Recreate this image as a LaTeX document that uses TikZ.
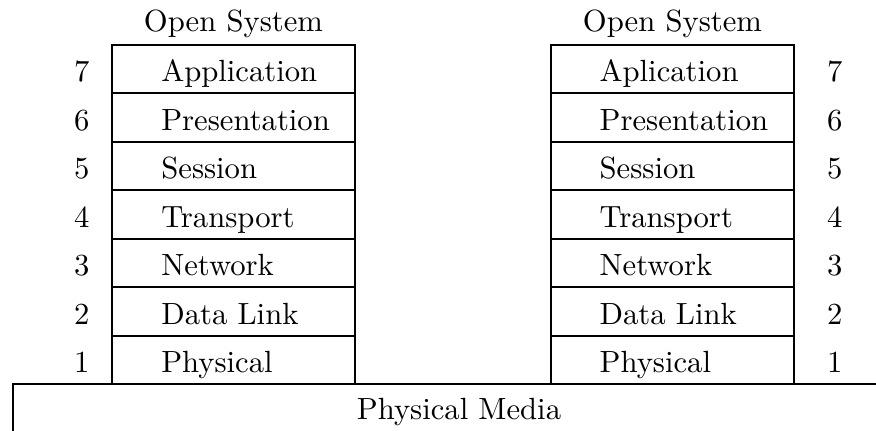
\documentclass[tikz,border=0pt]{standalone}
\usepackage{fontspec}
\newfontfamily\osifont{lmroman10-regular}[Extension=.otf]
\usepackage{tikz}
\usetikzlibrary{positioning}
\tikzset{
        layer/.style = {draw, rectangle, line width=1.4pt,
            minimum height=36.3pt,
            minimum width=182.25pt, inner sep=0pt},
        ltext/.style = {inner sep=0pt, text height=19pt, text depth=0pt,
            font=\osifont\fontsize{23}{28}\selectfont},
        num/.style = {ltext},
        media/.style = {draw, rectangle, line width=1.4pt,
            minimum width=669pt, minimum height=37.5pt,
            inner sep=0pt, text height=16.5pt, text depth=0pt,
            font=\osifont\fontsize{23}{28}\selectfont},
    }

\begin{document}
\begin{tikzpicture}[x=0.75pt,y=0.75pt,yscale=-1,xscale=1]
    \useasboundingbox (0,0) rectangle (876,431);
    \clip (0,0) rectangle (876,431);

    % Physical media (runs off the frame)
    \node[media] (media) at (459,409) {Physical Media};

    % Two open-system stacks
    \foreach \n/\lname/\rname [count=\i from 0] in {7/Application/Aplication,6/Presentation/Presentation,5/Session/Session,4/Transport/Transport,3/Network/Network,2/Data Link/Data Link,1/Physical/Physical}{
        \node[layer] (A\n) at (233.5,{69.2+48.43*\i}) {};
        \node[ltext, right=37.5pt of A\n.west] (At\n) {\lname};
        \node[num, left=16pt of A\n.west] (An\n) {\n};
        \node[layer] (B\n) at (672.5,{69.2+48.43*\i}) {};
        \node[ltext, right=37pt of B\n.west] (Bt\n) {\rname};
        \node[num, right=24pt of B\n.east] (Bn\n) {\n};
    }

    % Titles
    \node[ltext, above=9pt of A7] (osA) {Open System};
    \node[ltext, above=9pt of B7] (osB) {Open System};

\end{tikzpicture}
\end{document}
